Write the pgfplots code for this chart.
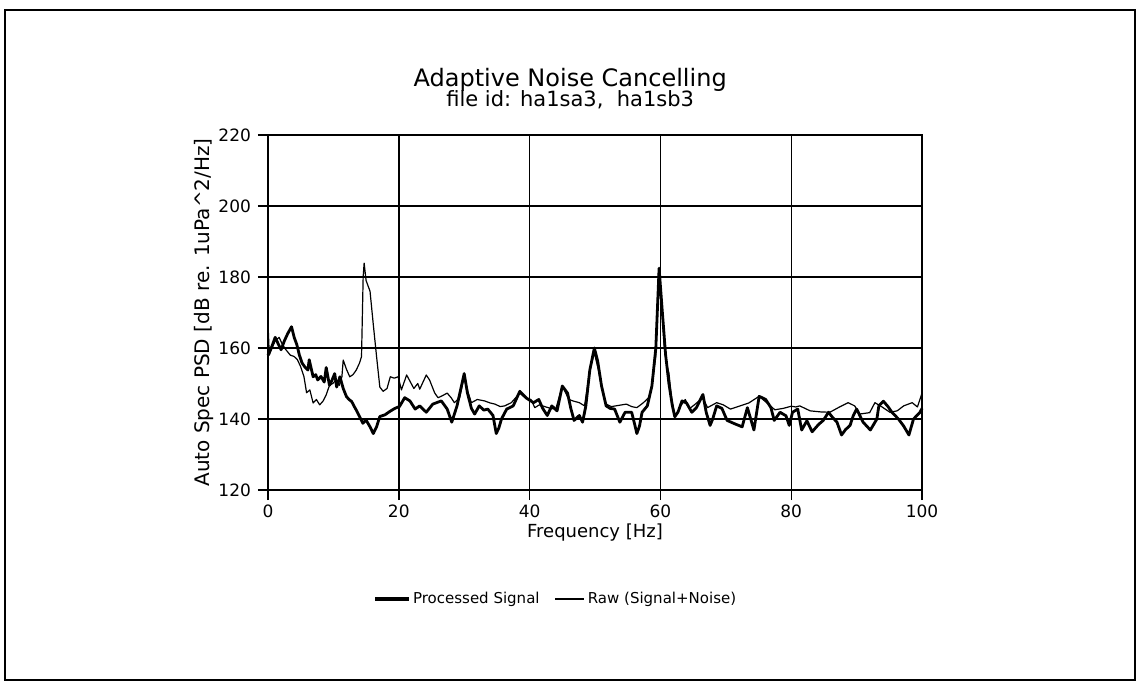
\documentclass[border=0pt]{standalone}
\usepackage{fontspec}
\setmainfont{DejaVu Sans}
\usepackage{pgfplots}
\pgfplotsset{compat=1.18}

\begin{document}
\begin{tikzpicture}
\begin{axis}[
    scale only axis,
    width=327pt, height=177.5pt,
    xmin=0, xmax=100, ymin=120, ymax=220,
    xtick={0,20,...,100}, ytick={120,140,...,220},
    /pgf/number format/assume math mode=true,
    tick label style={font=\fontsize{8.5}{10}\selectfont},
    xticklabel style={yshift=1pt},
    tick align=outside, tick pos=left,
    major tick length=5pt,
    grid=major,
    grid style={black, line width=0.7pt},
    axis line style={black, line width=0.7pt},
    major tick style={black, line width=0.7pt},
    xlabel={Frequency [Hz]},
    xlabel style={font=\fontsize{9}{11}\selectfont, at={(axis description cs:0.5,-0.121)}, anchor=center},
    ylabel={Auto Spec PSD [dB re. 1uPa\textasciicircum 2/Hz]},
    ylabel style={font=\fontsize{10}{12}\selectfont, at={(axis description cs:-0.098,0.5)}, anchor=center},
    title={{\fontsize{12}{14}\selectfont Adaptive Noise Cancelling}\\[-2pt]{\fontsize{10.5}{12}\selectfont file id: ha1sa3,\ \ ha1sb3}},
    title style={align=center, at={(axis description cs:0.462,1.02)}, anchor=south},
    legend style={draw=none, fill=none, at={(axis description cs:0.443,-0.307)}, anchor=center,
        font=\fontsize{7.5}{9}\selectfont, legend columns=2,
        /tikz/every even column/.append style={column sep=5.5pt}},
    clip=false,
]
\addlegendimage{legend image code/.code={\fill[black] (0cm,-0.75pt) rectangle (0.58cm,0.75pt);}}
\addlegendentry{Processed Signal}
\addlegendimage{legend image code/.code={\fill[black] (0cm,-0.3pt) rectangle (0.5cm,0.3pt);}}
\addlegendentry{Raw (Signal+Noise)}
\addplot[black, line width=1.4pt, line join=round, forget plot] coordinates {
(0,158) (0.5,160) (1.1,163) (1.6,161) (2.0,159.5) (2.5,162) (3.0,164) (3.6,166)
(4.0,163) (4.4,161) (4.8,158) (5.2,155.8) (5.7,154.5) (6.1,153.8) (6.3,156.7)
(6.9,151.9) (7.3,152.5) (7.6,151) (8.1,152) (8.6,150.4) (8.9,154.5) (9.4,149.5)
(9.8,151) (10.2,152.8) (10.5,149) (11.0,151.9) (11.5,148.6) (12.0,146.3)
(12.4,145.5) (12.8,144.9) (13.2,143.5) (13.5,142.5) (14.0,140.7) (14.5,138.8)
(15.0,139.7) (15.6,137.8) (16.1,135.9) (16.6,137.8) (17.1,140.7) (17.9,141.2)
(18.6,142.1) (19.4,143) (20.1,143.5) (20.9,146) (21.7,145.1) (22.5,142.8)
(23.2,143.7) (24.2,141.9) (25.2,144.2) (26.5,145.1) (27.4,142.8) (28.1,139.1)
(28.9,143.7) (30.0,152.8) (30.5,147.3) (31.1,143) (31.6,141.4) (32.3,143.7)
(33.0,142.5) (33.6,142.8) (34.4,141) (34.9,135.9) (35.3,137.5) (35.7,140)
(36.5,142.8) (37.5,143.7) (38.5,147.8) (39.5,145.9) (40.6,144.6) (41.4,145.5)
(42.0,143) (42.7,141) (43.4,143.7) (44.2,142.3) (45.0,149.3) (45.8,147.3)
(46.3,143) (46.8,139.6) (47.6,141) (48.1,139.1) (48.6,143.7) (49.2,153.7)
(49.9,160) (50.4,156.4) (51.0,149.3) (51.7,143.7) (52.3,143) (53.0,142.8)
(53.8,139.1) (54.6,141.9) (55.6,141.9) (56.0,139) (56.4,135.9) (56.8,138)
(57.2,141.9) (58.0,143.7) (58.7,149.3) (59.3,160) (59.8,182.5) (60.3,170)
(60.8,158) (61.3,150) (61.8,144) (62.2,140.6) (62.7,142) (63.3,145.1) (64.0,144.5)
(64.8,141.9) (65.5,143.2) (66.5,146.9) (67.0,141.9) (67.6,138.2) (68.0,140)
(68.6,143.7) (69.4,143) (70.2,139.6) (71.3,138.7) (72.5,137.8) (73.3,143.2)
(74.3,136.9) (75.1,146.4) (76.1,145.5) (76.9,143.2) (77.4,139.6) (78.3,141.9)
(79.2,140.9) (79.7,138.2) (80.2,141.9) (81.0,142.8) (81.6,136.9) (82.4,139.5)
(83.2,136.4) (84.2,138.5) (84.9,139.6) (85.7,141.9) (86.3,140.5) (87.0,139.1)
(87.7,135.5) (88.3,137) (89.0,138.2) (89.5,141) (90.0,142.8) (91.0,139.1)
(92.1,136.9) (93.1,140) (93.4,143.7) (94.1,145) (94.8,143.5) (95.4,141.9)
(96.4,140) (97.2,138) (98.0,135.5) (98.7,140) (99.7,141.9) (100,143)
};
\addplot[black, line width=0.6pt, line join=round, forget plot] coordinates {
(0,167) (0.2,158) (0.6,160) (1.1,162) (1.7,163) (2.2,161) (2.7,159.6) (3.4,158)
(4.0,157.6) (4.5,156.7) (5.0,154.7) (5.5,151.9) (5.9,147.4) (6.4,148.2) (6.9,144.5)
(7.4,145.5) (7.9,144) (8.4,145) (8.9,146.8) (9.4,149.5) (9.9,150) (10.4,151)
(10.9,149.5) (11.3,151.9) (11.5,156.6) (12.0,154) (12.5,151.9) (13.0,152.5)
(13.5,153.8) (14.0,155.8) (14.3,157.6) (14.55,180) (14.7,183.9) (15.0,179)
(15.6,176) (16.1,166.6) (16.6,157.6) (17.1,149) (17.6,147.8) (18.2,148.6)
(18.7,151.9) (19.3,151.5) (19.9,151.9) (20.4,148.2) (21.2,152.4) (22.3,148.6)
(22.9,150) (23.2,148.4) (24.2,152.4) (24.7,151) (25.5,147.3) (26.0,146)
(26.6,146.5) (27.4,147.3) (28.0,146) (28.5,144.6) (29.3,146) (30.0,152) (30.5,148)
(31.1,144.6) (32.0,145.5) (33.1,145.1) (34.0,144.5) (34.7,144.2) (35.5,143.5)
(36.2,143.7) (37.2,144.6) (38.5,147.3) (39.3,146) (40.2,145.5) (40.8,143.2)
(41.5,144) (42.3,143.5) (43.2,143) (44.0,142.8) (45.0,149.3) (46.0,145.5)
(46.8,145) (47.6,144.6) (48.4,143.7) (49.2,153.7) (49.9,158.6) (50.5,154)
(51.0,149.3) (51.7,144.2) (52.5,143.5) (53.5,143.8) (54.8,144.2) (55.6,143.5)
(56.4,143.2) (57.4,144.6) (58.2,146) (58.7,149.3) (59.3,158) (59.7,181) (60.2,172)
(60.6,160) (61.0,155) (61.3,153) (61.7,146) (62.2,141) (62.6,141.5) (63.1,143.7)
(63.8,145.5) (64.5,143) (65.2,144) (66.5,146) (67.2,143.2) (68.0,144) (68.6,144.6)
(69.6,144) (70.7,142.8) (72.2,143.7) (73.5,144.5) (75.1,146.4) (76.5,144.2)
(77.5,142.6) (78.8,143) (80.0,143.6) (80.7,143.4) (81.3,143.7) (82.9,142.3)
(84.5,142) (85.9,141.9) (87.5,143.5) (88.7,144.6) (89.7,143.7) (90.5,141.4)
(92.0,141.8) (92.8,144.6) (93.8,143.5) (95.1,141.9) (96.2,142.3) (97.2,143.7)
(98.5,144.6) (99.3,143.4) (100,147.3)
};
\end{axis}
\draw[black, line width=1.4pt] ([shift={(-131.5pt,-95pt)}]current axis.south west)
    rectangle ([shift={(433.5pt,240pt)}]current axis.south west);
\path ([shift={(-134pt,-96pt)}]current axis.south west)
    rectangle ([shift={(435pt,245pt)}]current axis.south west);
\end{tikzpicture}
\end{document}
